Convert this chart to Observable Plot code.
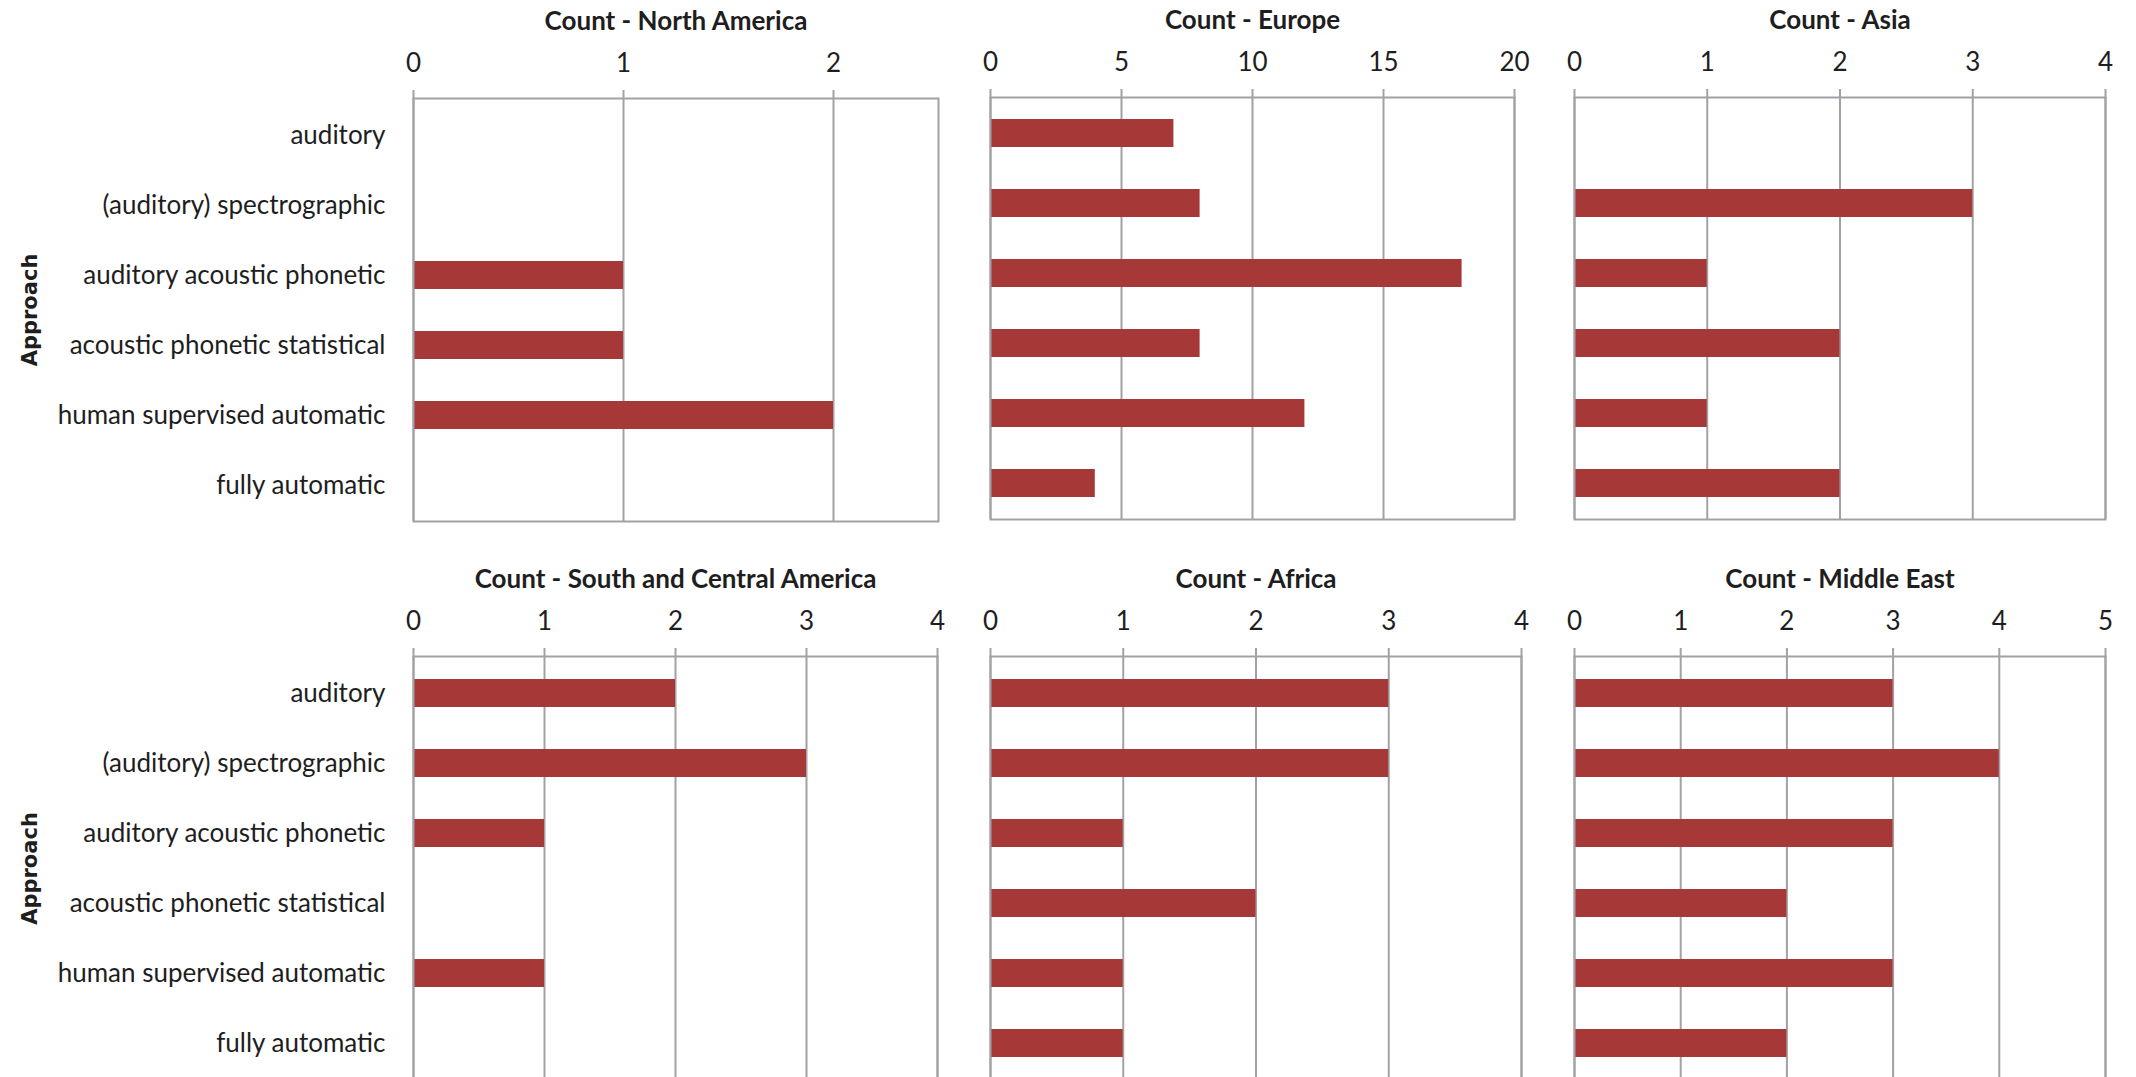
<!DOCTYPE html>
<html><head><meta charset="utf-8">
<script src="https://cdn.jsdelivr.net/npm/d3@7"></script>
<script src="https://cdn.jsdelivr.net/npm/@observablehq/plot@0.6"></script>
<style>
html,body{margin:0;padding:0;background:#fff;overflow:hidden;}
#root{position:relative;width:2136px;height:1077px;overflow:hidden;background:#fff;}
.panel{position:absolute;}
</style></head><body><div id="root"></div>
<script>
// ---- data ----
const approaches = ["auditory","(auditory) spectrographic","auditory acoustic phonetic","acoustic phonetic statistical","human supervised automatic","fully automatic"];
const regions = ["North America","Europe","Asia","South and Central America","Africa","Middle East"];
const northAmerica = [0,0,1,1,2,0];
const europe = [7,8,18,8,12,4];
const asia = [0,3,1,2,1,2];
const southCentralAmerica = [2,3,1,0,1,0];
const africa = [3,3,1,2,1,1];
const middleEast = [3,4,3,2,3,2];
const axisMax = [2.5,20,4,4,4,5];
const axisTicks = [[0,1,2],[0,5,10,15,20],[0,1,2,3,4],[0,1,2,3,4],[0,1,2,3,4],[0,1,2,3,4,5]];
const yLabel = "Approach";
const series = [northAmerica, europe, asia, southCentralAmerica, africa, middleEast];

// ---- layout (frame edges in page pixels) ----
const frames = [
  {l:413, r:938,  t:98,  b:521,  labels:true},
  {l:990, r:1514, t:97,  b:519,  labels:false},
  {l:1574,r:2105, t:97,  b:519,  labels:false},
  {l:413, r:937,  t:656, b:1080, labels:true},
  {l:990, r:1521, t:656, b:1080, labels:false},
  {l:1574,r:2105, t:656, b:1080, labels:false}
];

const grey = "#a2a2a6";
const ink = "#1e1e1e";
const root = document.getElementById("root");

frames.forEach((f, i) => {
  const mL = f.labels ? f.l : 24;
  const mR = 24, mT = 90, mB = 4;
  const W = mL + (f.r - f.l) + mR;
  const H = mT + (f.b - f.t) + mB;
  const data = approaches.map((a, j) => ({approach: a, count: series[i][j]}));
  const marks = [
    Plot.gridX(axisTicks[i], {stroke: grey, strokeOpacity: 1, strokeWidth: 2}),
    Plot.barX(data, {x: "count", y: "approach", fill: "#a73838"}),
    Plot.frame({stroke: grey, strokeWidth: 2}),
    Plot.axisX(axisTicks[i], {anchor: "top", tickSize: 9, tickPadding: 18, fontSize: 26, stroke: grey, strokeWidth: 2, fill: ink, label: null, tickFormat: d => String(d)}),
    Plot.text([`Count - ${regions[i]}`], {text: d => d, frameAnchor: "top", dy: -77, fontSize: 26, fontWeight: "bold", fill: ink, lineAnchor: "middle"})
  ];
  if (f.labels) {
    marks.push(Plot.axisY({anchor: "left", tickSize: 0, tickPadding: 28, fontSize: 26, fill: ink, label: null}));
    marks.push(Plot.text([yLabel], {text: d => d, frameAnchor: "left", dx: -(f.l - 30), rotate: -90, textAnchor: "middle", fontFamily: "DejaVu Sans", fontWeight: "bold", fontSize: 21, fill: ink, lineAnchor: "middle"}));
  }
  const chart = Plot.plot({
    width: W, height: H,
    marginLeft: mL, marginRight: mR, marginTop: mT, marginBottom: mB,
    style: {fontFamily: "Lato, sans-serif", color: ink, background: "transparent", overflow: "visible"},
    x: {domain: [0, axisMax[i]]},
    y: {domain: approaches, paddingInner: 0.6, paddingOuter: 0.3, axis: f.labels ? undefined : null},
    marks
  });
  const div = document.createElement("div");
  div.className = "panel";
  div.style.left = (f.l - mL) + "px";
  div.style.top = (f.t - mT) + "px";
  div.appendChild(chart);
  root.appendChild(div);
});
</script></body></html>
